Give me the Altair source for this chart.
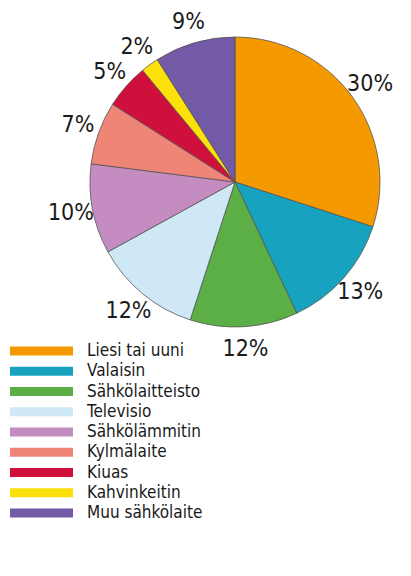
import altair as alt
import pandas as pd

categories = ["Liesi tai uuni", "Valaisin", "Sähkölaitteisto", "Televisio",
              "Sähkölämmitin", "Kylmälaite", "Kiuas", "Kahvinkeitin", "Muu sähkölaite"]
shares = [30, 13, 12, 12, 10, 7, 5, 2, 9]
colors = ["#F49A00", "#17A3C0", "#5CAE46", "#CFE8F6", "#C48CC0",
          "#EE8577", "#D0103C", "#FCE00A", "#735AA6"]
labels = [f"{v}%" for v in shares]

df = pd.DataFrame({
    "category": categories,
    "share": shares,
    "label": labels,
    "idx": list(range(len(categories))),
})

FONT = "Liberation Sans Narrow, DejaVu Sans Condensed, Liberation Sans, sans-serif"
color_scale = alt.Scale(domain=categories, range=colors)

base = alt.Chart(df).encode(
    theta=alt.Theta("share:Q", stack=True),
    order=alt.Order("idx:Q"),
    detail="category:N",
    x=alt.value(227),
    y=alt.value(174),
)

pie = base.mark_arc(outerRadius=145, stroke="#555555", strokeWidth=0.8).encode(
    color=alt.Color("category:N", scale=color_scale, legend=None)
)

text = base.mark_text(radius=167, font=FONT, fontSize=23, color="#1a1a1a").encode(
    text="label:N"
)

leg_y = alt.Y("category:N", sort=categories, axis=None,
              scale=alt.Scale(type="point", domain=categories, range=[343, 505], padding=0))

leg_sw = alt.Chart(df).mark_rule(strokeWidth=9, strokeCap="butt").encode(
    x=alt.value(2), x2=alt.value(65), y=leg_y,
    color=alt.Color("category:N", scale=color_scale, legend=None),
)

leg_txt = alt.Chart(df).mark_text(
    align="left", baseline="middle", font=FONT, fontSize=17, color="#1a1a1a"
).encode(x=alt.value(79), y=leg_y, text="category:N")

chart = alt.layer(pie, text, leg_sw, leg_txt).properties(
    width=395, height=560, autosize=alt.AutoSizeParams(type="none"), padding=0
).configure_view(stroke=None)

chart.save("out.html", embed_options={"renderer": "svg", "actions": False})
